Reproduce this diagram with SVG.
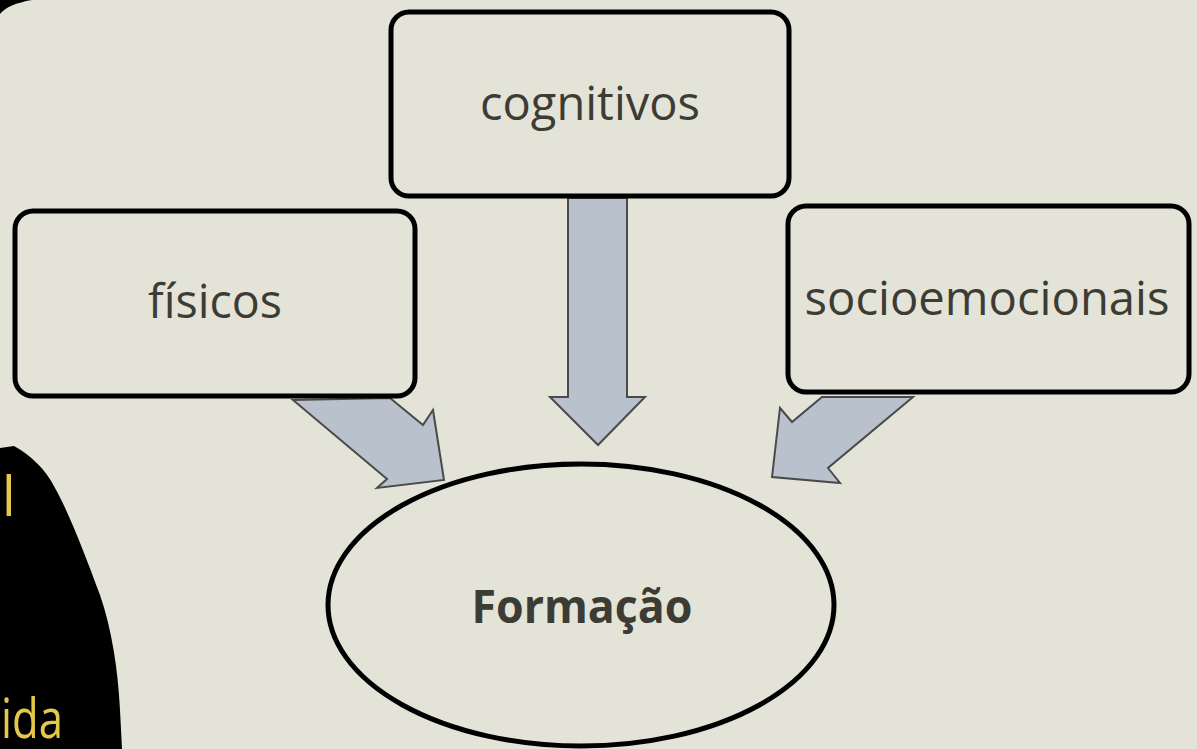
<svg xmlns="http://www.w3.org/2000/svg" width="1197" height="749" viewBox="0 0 1197 749">
<style>
.box{fill:#e3e3d8;stroke:#000;stroke-width:5}
.lbl{font-family:"Open Sans","Liberation Sans",sans-serif;font-size:47px;fill:#3c3c34;text-anchor:middle}
.arr{fill:#b8c1cc;stroke:#4a4a4a;stroke-width:2;stroke-linejoin:miter}
.side{font-family:"Open Sans","Liberation Sans",sans-serif;font-size:54px;fill:#e4c84a}
</style>
<rect width="1197" height="749" fill="#e3e3d8"/>
<path d="M0,0 L32,0 Q8,4 0,14 Z" fill="#000"/>
<g id="side">
<path d="M0,448 L14,446 C30,455 45,468 55,488 C70,515 85,555 100,595 C112,630 118,670 120,710 L122,749 L0,749 Z" fill="#000"/>
<text class="side" x="2" y="516">l</text>
<text class="side" x="1" y="738" textLength="62" lengthAdjust="spacingAndGlyphs">ida</text>
</g>
<g id="connectors">
<path class="arr" d="M568,198 L627,198 L627,397 L645,397 L598,445 L550,397 L568,397 Z"/>
<path class="arr" d="M293,400 L390,398 L423,425 L433,410 L444,480 L377,488 L387,479 Z"/>
<path class="arr" d="M913,397 L822,397 L792,422 L780,408 L772,477 L840,483 L828,468 Z"/>
</g>
<g id="cognitivos">
<rect class="box" x="391" y="12" width="398" height="184" rx="18"/>
<text class="lbl" x="590" y="120" textLength="220" lengthAdjust="spacingAndGlyphs">cognitivos</text>
</g>
<g id="fisicos">
<rect class="box" x="15" y="211" width="400" height="185" rx="18"/>
<text class="lbl" x="215" y="318" textLength="134" lengthAdjust="spacingAndGlyphs">físicos</text>
</g>
<g id="socioemocionais">
<rect class="box" x="788" y="206" width="401" height="186" rx="18"/>
<text class="lbl" x="987" y="315" textLength="365" lengthAdjust="spacingAndGlyphs">socioemocionais</text>
</g>
<g id="formacao">
<ellipse class="box" cx="581" cy="605" rx="253" ry="141"/>
<text class="lbl" x="582" y="623" font-weight="bold" font-size="50" textLength="221" lengthAdjust="spacingAndGlyphs">Formação</text>
</g>
</svg>
